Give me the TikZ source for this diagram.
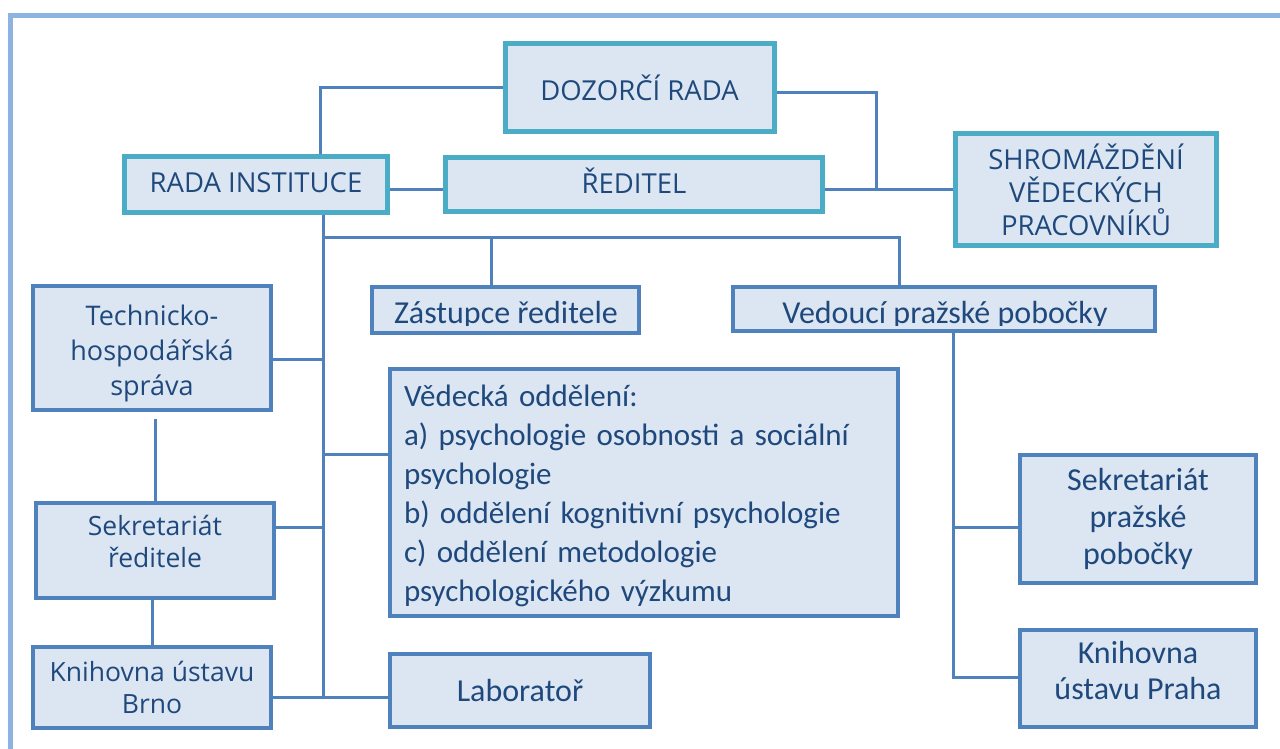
\documentclass[tikz,border=0pt]{standalone}
\usepackage{fontspec}
\newfontfamily\osf{Open Sans}
\newfontfamily\caf{Carlito}
\definecolor{lineblue}{HTML}{4F81BD}
\definecolor{tealc}{HTML}{4BACC6}
\definecolor{boxfill}{HTML}{DCE6F2}
\definecolor{textblue}{HTML}{1F497D}
\definecolor{framec}{HTML}{8DB3E2}
\newcommand\liftby[2]{\raisebox{#1}[\height][\depth]{#2}}
\tikzset{
  conn/.style={draw=lineblue, line width=3pt},
  tbox/.style={draw=tealc, line width=5pt, fill=boxfill, text=textblue, align=center, inner sep=0pt, font=\osf\fontsize{27.5}{33}\selectfont},
  lbox/.style={draw=lineblue, line width=4pt, fill=boxfill, text=textblue, align=center, inner sep=0pt},
  cafont/.style={font=\caf\fontsize{32}{39}\selectfont},
}
\begin{document}
\begin{tikzpicture}[x=1pt,y=-1pt]
\useasboundingbox (0,0) rectangle (1280,749);
\clip (0,0) rectangle (1280,749);
\draw[framec, line width=5pt] (10.5,16) rectangle (1300,770);

% top boxes
\node[tbox, minimum width=269pt, minimum height=88pt] (DOZ) at (639.5,88) {DOZORČÍ RADA};
\node[tbox, minimum width=263pt, minimum height=56pt] (RI) at (256,184.5) {\liftby{2pt}{RADA INSTITUCE}};
\node[tbox, minimum width=377pt, minimum height=54pt] (RED) at (634,184.5) {\liftby{4pt}{ŘEDITEL}};
\node[tbox, minimum width=261pt, minimum height=112pt] (SHR) at (1086,189.5) {SHROMÁŽDĚNÍ\\VĚDECKÝCH\\PRACOVNÍKŮ};

% left column
\node[lbox, font=\osf\fontsize{27}{35}\selectfont, minimum width=238pt, minimum height=124pt] (TECH) at (152,348) {\liftby{-5pt}{Technicko-}\\\liftby{-5pt}{hospodářská}\\\liftby{-5pt}{správa}};
\node[lbox, font=\osf\fontsize{26.5}{32}\selectfont, minimum width=238pt, minimum height=95pt] (SEKR) at (155,550.5) {\liftby{9pt}{Sekretariát}\\\liftby{9pt}{ředitele}};
\node[lbox, font=\osf\fontsize{26.5}{32}\selectfont, minimum width=238pt, minimum height=81pt] (KNB) at (152,687.5) {Knihovna ústavu\\Brno};

% middle
\node[lbox, minimum width=267pt, minimum height=46pt] (ZAS) at (505.5,310) {};
\begin{scope}
\clip (372,289) rectangle (639,325.5);
\node[cafont, text=textblue, anchor=base, inner sep=0pt] (ZASt) at (506,323) {Zástupce ředitele};
\end{scope}
\node[lbox, minimum width=422pt, minimum height=44pt] (VED) at (944,309) {};
\begin{scope}
\clip (735,289) rectangle (1153,325.5);
\node[cafont, text=textblue, anchor=base, inner sep=0pt] (VEDt) at (945,323) {Vedoucí pražské pobočky};
\end{scope}
\node[lbox, font=\caf\fontsize{31}{39}\selectfont, align=left, text width=480pt, minimum width=508pt, minimum height=247pt] (VD) at (644,492.5) {\liftby{-3pt}{Vědecká oddělení:}\\\liftby{-3pt}{a) psychologie osobnosti a sociální}\\\liftby{-3pt}{psychologie}\\\liftby{-3pt}{b) oddělení kognitivní psychologie}\\\liftby{-3pt}{c) oddělení metodologie}\\\liftby{-3pt}{psychologického výzkumu}};
\node[lbox, cafont, minimum width=260pt, minimum height=73pt] (LAB) at (520,690.5) {Laboratoř};

% right
\node[lbox, font=\caf\fontsize{32}{37}\selectfont, minimum width=236pt, minimum height=128pt] (SPP) at (1138,519) {Sekretariát\\pražské\\pobočky};
\node[lbox, font=\caf\fontsize{32}{36}\selectfont, minimum width=236pt, minimum height=97pt] (KNP) at (1138,678.5) {\liftby{8pt}{Knihovna}\\\liftby{8pt}{ústavu Praha}};

% connectors
\coordinate (jR) at (876,189);
\coordinate (tEnd) at (323,697);
\coordinate (b1) at (323,237);
\coordinate (b2) at (899,237);
\coordinate (d1) at (491,237);
\coordinate (tT) at (323,359);
\coordinate (tV) at (323,454);
\coordinate (tS) at (323,527);
\coordinate (g1) at (155,419);
\coordinate (v1) at (953,527);
\coordinate (v2) at (953,677);

\draw[conn] ([xshift=64pt]RI.north) |- (DOZ.west);
\draw[conn] ([yshift=-5pt]DOZ.east) -| (jR);
\draw[conn] (RED.east |- jR) -- (SHR.west |- jR);
\draw[conn] (RI.east |- jR) -- (RED.west |- jR);
\draw[conn] ([xshift=67pt]RI.south) -- (tEnd);
\draw[conn] (b1) -- (b2) -- (b2 |- VED.north);
\draw[conn] (d1) -- (d1 |- ZAS.north);
\draw[conn] (TECH.east |- tT) -- (tT);
\draw[conn] (tV) -- (VD.west |- tV);
\draw[conn] (SEKR.east |- tS) -- (tS);
\draw[conn] (KNB.east |- tEnd) -- (LAB.west |- tEnd);
\draw[conn] (g1) -- (SEKR.north);
\draw[conn] (KNB.north |- SEKR.south) -- (KNB.north);
\draw[conn] (VED.south -| v1) -- (v2) -- (KNP.west |- v2);
\draw[conn] (v1) -- (SPP.west |- v1);
\end{tikzpicture}
\end{document}
